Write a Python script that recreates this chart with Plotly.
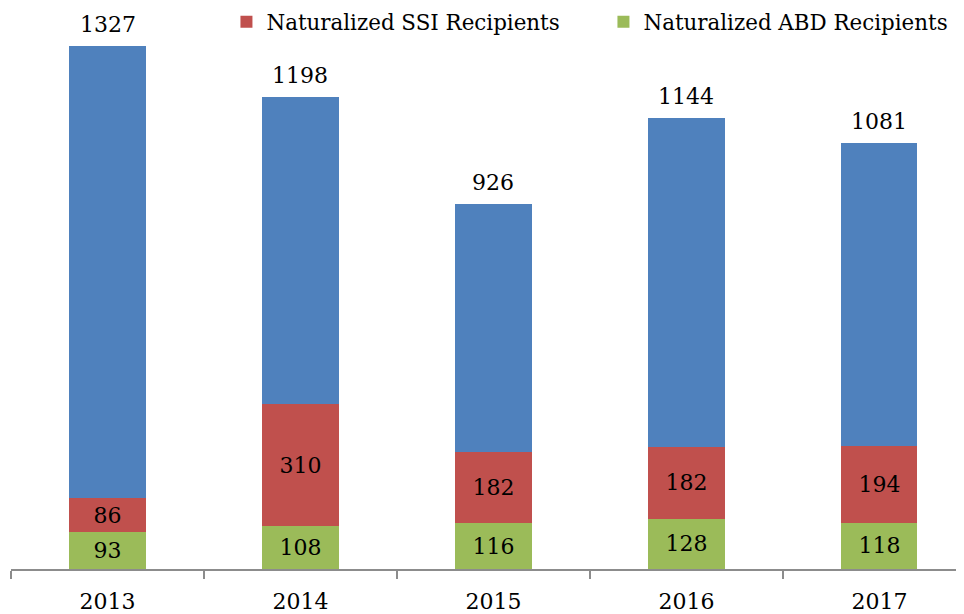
import plotly.graph_objects as go

years = ["2013", "2014", "2015", "2016", "2017"]
abd = [93, 108, 116, 128, 118]
ssi = [86, 310, 182, 182, 194]
totals = [1327, 1198, 926, 1144, 1081]
other = [t - a - s for t, a, s in zip(totals, abd, ssi)]

FONT = "DejaVu Serif"
SZ = 22
fig = go.Figure()
fig.add_trace(go.Bar(x=years, y=abd, name="Naturalized ABD Recipients",
                     marker=dict(color="#9BBB59", line=dict(width=0)),
                     text=abd, textposition="inside", insidetextanchor="middle",
                     textfont=dict(color="black", size=SZ, family=FONT)))
fig.add_trace(go.Bar(x=years, y=ssi, name="Naturalized SSI Recipients",
                     marker=dict(color="#C0504D", line=dict(width=0)),
                     text=ssi, textposition="inside", insidetextanchor="middle",
                     textfont=dict(color="black", size=SZ, family=FONT)))
fig.add_trace(go.Bar(x=years, y=other, name="Other",
                     marker=dict(color="#4F81BD", line=dict(width=0)),
                     showlegend=False))

for i, t in enumerate(totals):
    fig.add_annotation(x=i, y=t, text=str(t), showarrow=False, yanchor="bottom",
                       yshift=7, font=dict(size=SZ, family=FONT, color="black"))

fig.update_layout(
    width=956, height=606, barmode="stack", bargap=0.606,
    margin=dict(l=3, r=0, t=0, b=45, autoexpand=False),
    plot_bgcolor="white", paper_bgcolor="white",
    font=dict(family=FONT, size=SZ, color="black"),
    uniformtext=dict(mode=False),
    legend=dict(orientation="h", traceorder="reversed",
                xref="container", x=0.2285, xanchor="left",
                yref="container", y=0.977, yanchor="middle",
                font=dict(size=21.4, family=FONT),
                itemwidth=30, entrywidth=332, bgcolor="rgba(0,0,0,0)"),
    xaxis=dict(type="category", range=[-0.5, 4.438], showline=True, linecolor="#8C8C8C",
               linewidth=1.5, ticks="outside", tickson="boundaries", ticklen=8,
               tickcolor="#8C8C8C", tickwidth=1.5, showgrid=False, ticklabelstandoff=12,
               automargin=False, tickfont=dict(size=SZ, family=FONT)),
    yaxis=dict(range=[0, 1424], visible=False, showgrid=False),
)
fig.write_html("out.html")
